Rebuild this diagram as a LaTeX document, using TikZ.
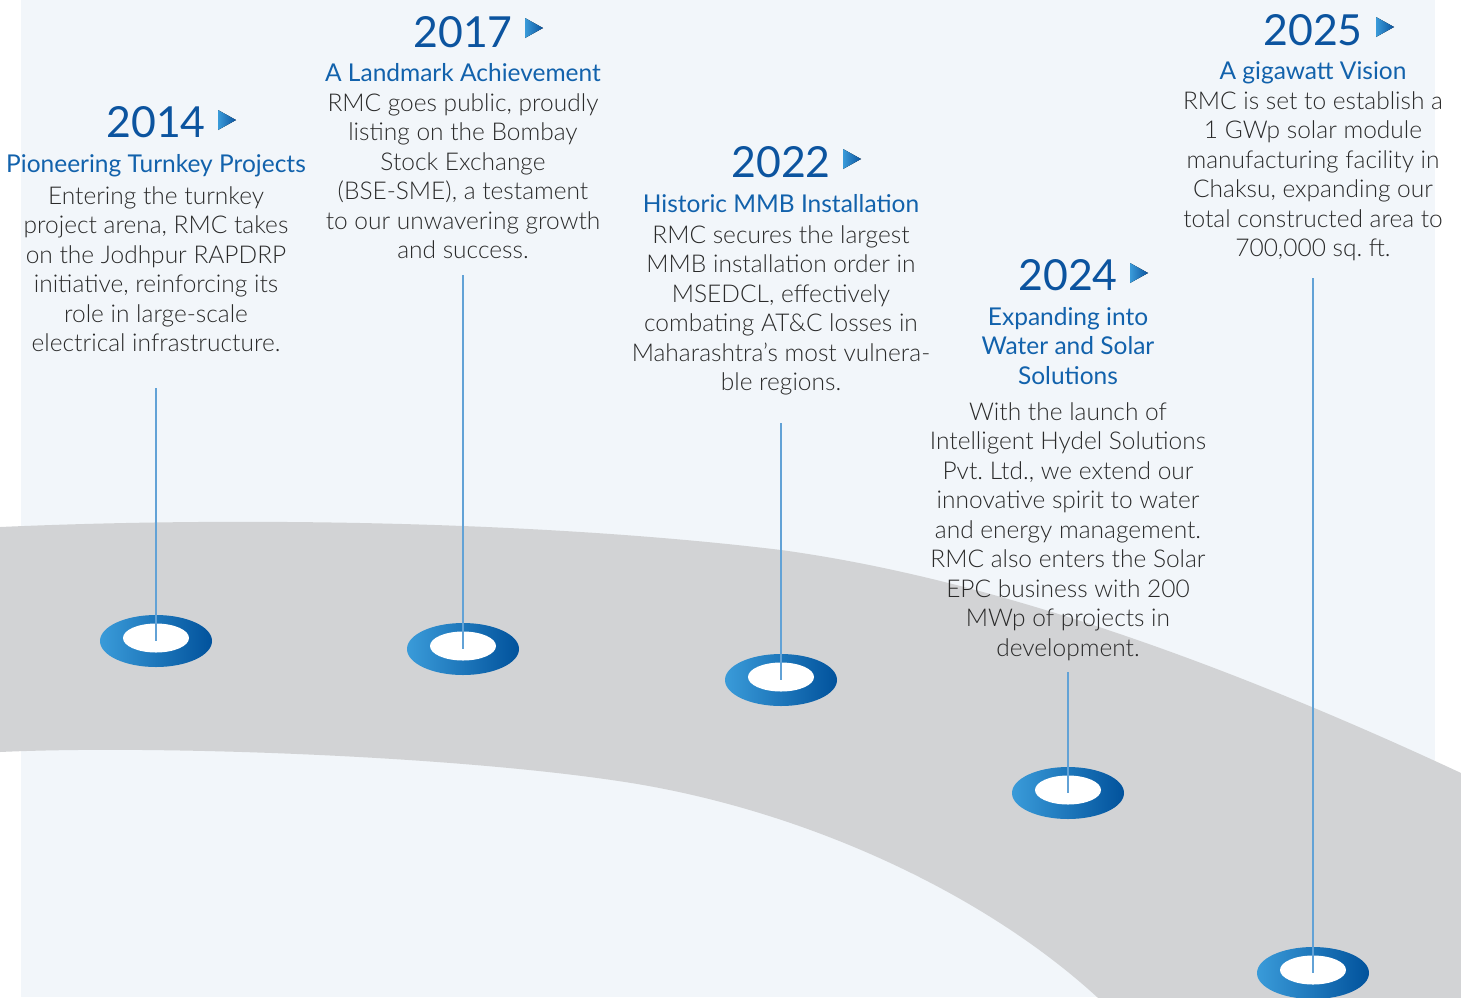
\documentclass[tikz,border=0pt]{standalone}
\usepackage{fontspec}
\setmainfont{Lato}
\newfontfamily\lightf{Lato Light}
\usetikzlibrary{shapes.geometric}
\definecolor{bglight}{HTML}{F2F6FA}
\definecolor{bandgray}{HTML}{D2D3D5}
\definecolor{yearblue}{HTML}{0C549F}
\definecolor{titleblue}{HTML}{1262AC}
\definecolor{bodygray}{HTML}{2A2A2A}
\definecolor{linecol}{HTML}{62A2D6}
\definecolor{ringL}{HTML}{3A9BD9}
\definecolor{ringR}{HTML}{01529C}
\newcommand\mystrut{\rule{0pt}{11pt}}
\tikzset{
  yeartxt/.style={font=\fontsize{21.4}{25}\selectfont, text=yearblue, inner sep=0pt, anchor=base},
  titletxt/.style={font=\fontsize{12.25}{14.75}\selectfont, text=titleblue, inner sep=0pt, anchor=base},
  titleblk/.style={font=\fontsize{12.25}{14.75}\selectfont, text=titleblue, inner sep=0pt, anchor=north, align=center},
  bodytxt/.style={font=\lightf\fontsize{12.25}{14.75}\selectfont, text=bodygray, inner sep=0pt, anchor=north, align=center},
  ring/.style={ellipse, minimum width=56pt, minimum height=26pt, inner sep=0pt, left color=ringL, right color=ringR, draw=none},
  ringhole/.style={ellipse, minimum width=33pt, minimum height=14.5pt, inner sep=0pt, fill=white, draw=none},
  conn/.style={draw=linecol, line width=0.55pt},
  tri/.style={left color=ringL, right color=yearblue, draw=none}
}
\begin{document}
\begin{tikzpicture}[x=0.5pt,y=-0.5pt]
\useasboundingbox (0,0) rectangle (1461,997);
\fill[white] (0,0) rectangle (1461,997);
\fill[bglight] (21,0) rectangle (1435,997);
\begin{scope}
\clip (0,0) rectangle (1461,997);
\fill[bandgray] (-10,528) -- (0,527)
  .. controls (250,516) and (550,522) .. (781,550)
  .. controls (1000,580) and (1240,670) .. (1461,773)
  -- (1500,792) -- (1500,1030) -- (1130,1030) -- (1120,1018) -- (1097,997)
  .. controls (980,890) and (800,809) .. (625,782)
  .. controls (450,755) and (150,745) .. (0,752)
  -- (-10,753) -- cycle;
\end{scope}

% ---------- 2014 ----------
\node[yeartxt] (y1) at (156,137) {2014};
\fill[tri] (218,110) -- (236,120) -- (218,130) -- cycle;
\node[titletxt] (t1) at (156,172) {Pioneering Turnkey Projects};
\node[bodytxt] (b1) at (156,182) {\mystrut Entering the turnkey\\project arena, RMC takes\\on the Jodhpur RAPDRP\\initiative, reinforcing its\\role in large-scale\\electrical infrastructure.};
\node[ring] (r1) at (156,641) {};
\node[ringhole] (h1) at (156,638) {};
\coordinate (s1) at (156,388);
\draw[conn] (s1) -- (r1.center);

% ---------- 2017 ----------
\node[yeartxt] (y2) at (463,47) {2017};
\fill[tri] (525,18) -- (543,28) -- (525,38) -- cycle;
\node[titletxt] (t2) at (463,81) {A Landmark Achievement};
\node[bodytxt] (b2) at (463,89) {\mystrut RMC goes public, proudly\\listing on the Bombay\\Stock Exchange\\(BSE-SME), a testament\\to our unwavering growth\\and success.};
\node[ring] (r2) at (463,649) {};
\node[ringhole] (h2) at (463,646) {};
\coordinate (s2) at (463,275);
\draw[conn] (s2) -- (r2.center);

% ---------- 2022 ----------
\node[yeartxt] (y3) at (781,177) {2022};
\fill[tri] (843,149) -- (861,159) -- (843,169) -- cycle;
\node[titletxt] (t3) at (781,212) {Historic MMB Installation};
\node[bodytxt] (b3) at (781,221) {\mystrut RMC secures the largest\\MMB installation order in\\MSEDCL, effectively\\combating AT\&C losses in\\Maharashtra’s most vulnera-\\ble regions.};
\node[ring] (r3) at (781,680) {};
\node[ringhole] (h3) at (781,677) {};
\coordinate (s3) at (781,423);
\draw[conn] (s3) -- (r3.center);

% ---------- 2024 ----------
\node[yeartxt] (y4) at (1068,290) {2024};
\fill[tri] (1130,263) -- (1148,273) -- (1130,283) -- cycle;
\node[titleblk] (t4) at (1068,303) {\mystrut Expanding into\\Water and Solar\\Solutions};
\node[bodytxt] (b4) at (1068,398) {\mystrut With the launch of\\Intelligent Hydel Solutions\\Pvt.\ Ltd., we extend our\\innovative spirit to water\\and energy management.\\RMC also enters the Solar\\EPC business with 200\\MWp of projects in\\development.};
\node[ring] (r4) at (1068,793) {};
\node[ringhole] (h4) at (1068,790) {};
\coordinate (s4) at (1068,672);
\draw[conn] (s4) -- (r4.center);

% ---------- 2025 ----------
\node[yeartxt] (y5) at (1313,45) {2025};
\fill[tri] (1376,17) -- (1394,27) -- (1376,37) -- cycle;
\node[titletxt] (t5) at (1313,79) {A gigawatt Vision};
\node[bodytxt] (b5) at (1313,87) {\mystrut RMC is set to establish a\\1 GWp solar module\\manufacturing facility in\\Chaksu, expanding our\\total constructed area to\\700,000 sq.\ ft.};
\node[ring] (r5) at (1313,973) {};
\node[ringhole] (h5) at (1313,970) {};
\coordinate (s5) at (1313,278);
\draw[conn] (s5) -- (r5.center);
\end{tikzpicture}
\end{document}
